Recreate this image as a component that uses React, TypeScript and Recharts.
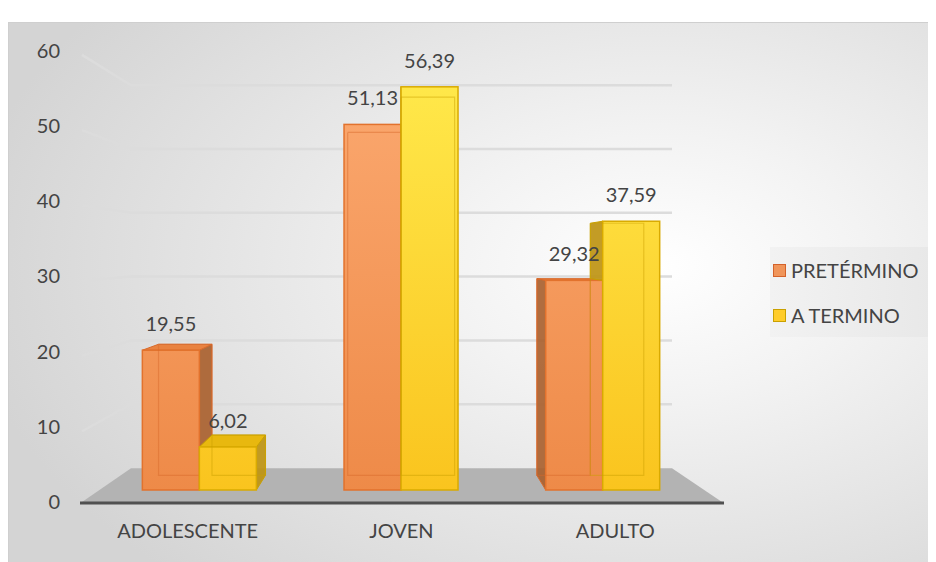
import React from 'react';
import {
  BarChart,
  Bar,
  XAxis,
  YAxis,
  ReferenceArea,
  LabelList,
  Legend,
} from 'recharts';

const categories = ['ADOLESCENTE', 'JOVEN', 'ADULTO'];
const pretermino = [19.55, 51.13, 29.32];
const aTermino = [6.02, 56.39, 37.59];
const seriesNames = ['PRETÉRMINO', 'A TERMINO'];
const yTicks = [0, 10, 20, 30, 40, 50, 60];
const gridTicks = [10, 20, 30, 40, 50, 60];

const data = categories.map((name, i) => ({
  name,
  pre: pretermino[i],
  term: aTermino[i],
}));

const FONT = 'Lato, "Open Sans", sans-serif';
const TEXT = '#444444';

// fake perspective: vanishing point + depth factor (chart coords)
const VP = { x: 395, y: 232 };
const DEPTH = 0.062;
const SIDE = 1.18;
const toBack = (x: number, y: number) => [x + (VP.x - x) * DEPTH, y + (VP.y - y) * DEPTH];
const toSide = (x: number, y: number) => [VP.x + (x - VP.x) * SIDE, VP.y + (y - VP.y) * SIDE];
const pts = (list: number[][]) => list.map((p) => p.join(',')).join(' ');

const orange = {
  grad: 'url(#gOrange)',
  stroke: '#E2722D',
  side: '#A9612F',
  top: '#E98240',
  edge: '#D8692A',
};
const yellow = {
  grad: 'url(#gYellow)',
  stroke: '#D9AA00',
  side: '#BE9412',
  top: '#E8B80F',
  edge: '#C9A000',
};

const fmt = (v: number) => v.toFixed(2).replace('.', ',');

function Box3D(props: any) {
  const { x, y, width, height, pal, series, payload } = props;
  if (!height || height <= 0) return null;
  const x2 = x + width;
  const y2 = y + height;
  const cx = x + width / 2;
  const btl = toBack(x, y);
  const btr = toBack(x2, y);
  const bbl = toBack(x, y2);
  const bbr = toBack(x2, y2);

  let side = null;
  if (cx < VP.x) {
    side = <polygon points={pts([[x2, y], btr, bbr, [x2, y2]])} fill={pal.side} fillOpacity={0.92} stroke={pal.edge} strokeWidth={1} />;
  } else {
    let lowY = y2;
    if (series === 'term' && payload) {
      lowY = y2 - height * (payload.pre / payload.term);
    }
    if (lowY > y) {
      side = <polygon points={pts([[x, y], btl, toBack(x, lowY), [x, lowY]])} fill={pal.side} fillOpacity={0.92} stroke={pal.edge} strokeWidth={1} />;
    }
  }

  const top = y > VP.y ? (
    <polygon points={pts([[x, y], [x2, y], btr, btl])} fill={pal.top} stroke={pal.edge} strokeWidth={1} />
  ) : null;

  return (
    <g>
      {side}
      {top}
      <rect x={x} y={y} width={width} height={height} fill={pal.grad} stroke={pal.stroke} strokeWidth={1.5} />
      <polyline points={pts([btl, bbl, bbr, btr, btl])} fill="none" stroke={pal.edge} strokeOpacity={0.45} strokeWidth={1.2} />
    </g>
  );
}

// back-wall gridline with its side-wall part, drawn at the area's top edge
const GridShape = (props: any) => {
  const { x, y, width } = props;
  const bx = x + 32;
  const ex = x + width - 32;
  const f = toSide(bx, y);
  return (
    <path d={`M${f[0]},${f[1]} L${bx},${y} L${ex},${y}`} fill="none" stroke="#dcdcdc" strokeWidth={2.5} />
  );
};

const FloorShape = (props: any) => {
  const { x, y, width, height } = props;
  const poly = [
    [x + 32, y],
    [x + width - 32, y],
    [x + width + 18, y + height],
    [x - 17, y + height],
  ];
  return (
    <g>
      <polygon points={pts(poly)} fill="#b3b3b3" />
      <line x1={x - 19} y1={y + height + 1} x2={x + width + 20} y2={y + height + 1} stroke="#505050" strokeWidth={3} />
    </g>
  );
};

const XTick = (props: any) => {
  const { x, y, payload } = props;
  const tx = x + (x - VP.x) * 0.06;
  return (
    <text x={tx} y={y + 24} textAnchor="middle" fill={TEXT} fontSize={20} fontFamily={FONT}>
      {payload.value}
    </text>
  );
};

const YTick = (props: any) => {
  const { y, payload } = props;
  return (
    <text x={52} y={y} dy="0.35em" textAnchor="end" fill={TEXT} fontSize={20} fontFamily={FONT}>
      {payload.value}
    </text>
  );
};

const LegendBox = () => (
  <div
    style={{
      width: 162,
      height: 90,
      background: 'linear-gradient(90deg, #f2f2f2, #e8e8e8)',
      fontFamily: FONT,
      fontSize: 20,
      color: TEXT,
      position: 'relative',
    }}
  >
    {seriesNames.map((n, i) => (
      <div key={n} style={{ position: 'absolute', left: 3, top: 11 + i * 45, display: 'flex', alignItems: 'center', whiteSpace: 'nowrap' }}>
        <span
          style={{
            display: 'inline-block',
            width: 11,
            height: 11,
            background: i === 0 ? '#F0955A' : '#FFCC29',
            border: `1.5px solid ${i === 0 ? '#D4622A' : '#C9A000'}`,
            marginRight: 5,
          }}
        />
        <span>{n}</span>
      </div>
    ))}
  </div>
);

export default function App() {
  return (
    <div
      style={{
        marginTop: 14,
        width: 928,
        height: 540,
        position: 'relative',
        background: 'radial-gradient(ellipse 75% 80% at 70% 45%, #ffffff 0%, #f3f3f3 30%, #d4d4d4 100%)',
        borderTop: '1px solid #cfcfcf',
        borderLeft: '1px solid #cfcfcf',
        boxSizing: 'border-box',
      }}
    >
      <BarChart
        width={928}
        height={540}
        data={data}
        margin={{ top: 18, right: 232, bottom: 16, left: 0 }}
        barCategoryGap="21.5%"
        barGap={0}
        style={{ position: 'absolute', left: -1, top: -1 }}
      >
        <defs>
          <linearGradient id="gOrange" gradientUnits="userSpaceOnUse" x1="0" y1="60" x2="0" y2="470">
            <stop offset="0%" stopColor="#FBA86F" />
            <stop offset="100%" stopColor="#EE8A48" />
          </linearGradient>
          <linearGradient id="gYellow" gradientUnits="userSpaceOnUse" x1="0" y1="60" x2="0" y2="470">
            <stop offset="0%" stopColor="#FFE84A" />
            <stop offset="100%" stopColor="#FAC41E" />
          </linearGradient>
        </defs>
        <XAxis dataKey="name" axisLine={false} tickLine={false} height={40} tick={<XTick />} interval={0} />
        <YAxis
          yAxisId="front"
          type="number"
          domain={[-0.532, 61.463]}
          allowDataOverflow
          ticks={yTicks}
          width={91}
          axisLine={false}
          tickLine={false}
          tick={<YTick />}
        />
        <YAxis yAxisId="bars" type="number" domain={[-2.238, 62.937]} allowDataOverflow hide />
        <YAxis yAxisId="back" type="number" domain={[-5.956, 67.085]} allowDataOverflow hide />
        {gridTicks.map((v) => (
          <ReferenceArea key={v} yAxisId="back" y1={v - 0.2} y2={v} shape={<GridShape />} ifOverflow="visible" />
        ))}
        <ReferenceArea yAxisId="front" y1={0} y2={4.5} shape={<FloorShape />} ifOverflow="visible" />
        <Bar
          dataKey="pre"
          name={seriesNames[0]}
          yAxisId="bars"
          fill="#F0955A"
          isAnimationActive={false}
          shape={(p: any) => <Box3D {...p} pal={orange} series="pre" />}
        >
          <LabelList dataKey="pre" position="top" offset={19} formatter={fmt} fill={TEXT} fontSize={20} fontFamily={FONT} />
        </Bar>
        <Bar
          dataKey="term"
          name={seriesNames[1]}
          yAxisId="bars"
          fill="#FFCC29"
          isAnimationActive={false}
          shape={(p: any) => <Box3D {...p} pal={yellow} series="term" />}
        >
          <LabelList dataKey="term" position="top" offset={19} formatter={fmt} fill={TEXT} fontSize={20} fontFamily={FONT} />
        </Bar>
        <Legend
          layout="horizontal"
          verticalAlign="middle"
          align="center"
          content={<LegendBox />}
          wrapperStyle={{ position: 'absolute', left: 762, top: 225, width: 162, height: 90 }}
        />
      </BarChart>
    </div>
  );
}
